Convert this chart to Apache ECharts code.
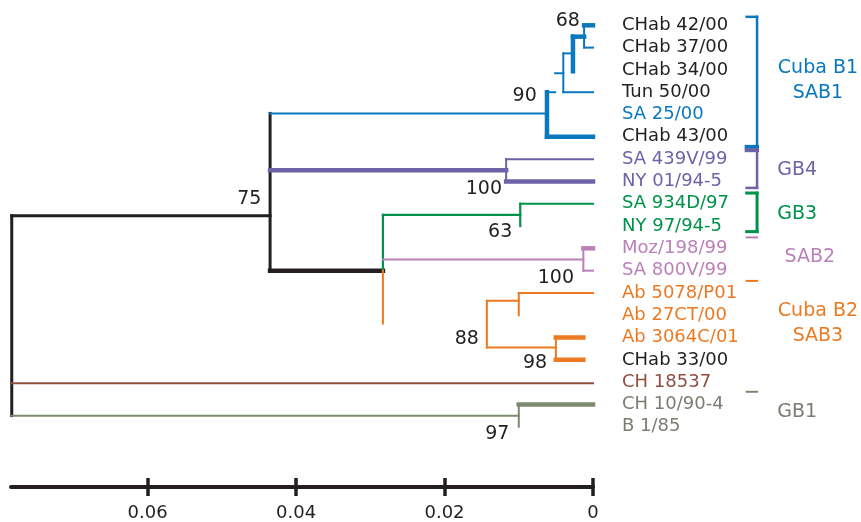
<!DOCTYPE html>
<html>
<head>
<meta charset="utf-8">
<script src="https://cdn.jsdelivr.net/npm/echarts@6/dist/echarts.min.js"></script>
<style>
html, body { margin: 0; padding: 0; background: #fff; }
#main { width: 861px; height: 522px; }
</style>
</head>
<body>
<div id="main"></div>
<script>
// taxa, top to bottom (row index = position in this list)
var leafNames = ['CHab 42/00', 'CHab 37/00', 'CHab 34/00', 'Tun 50/00', 'SA 25/00', 'CHab 43/00',
    'SA 439V/99', 'NY 01/94-5', 'SA 934D/97', 'NY 97/94-5', 'Moz/198/99', 'SA 800V/99',
    'Ab 5078/P01', 'Ab 27CT/00', 'Ab 3064C/01', 'CHab 33/00', 'CH 18537', 'CH 10/90-4', 'B 1/85'];
var leafGroup = ['k', 'k', 'k', 'k', 'b1', 'k', 'gb4', 'gb4', 'gb3', 'gb3', 'sab2', 'sab2',
    'b2', 'b2', 'b2', 'k', 'ch', 'gb1', 'gb1'];

// branches: [dist1, row1, dist2, row2]  (distance = substitutions/site)
var rootThin = [[0.0783, 8.54, 0.0783, 17.5], [0.0783, 8.54, 0.0435, 8.54], [0.0435, 3.95, 0.0435, 11]];
var rootThick = [[0.0435, 11, 0.0283, 11]];
var b1Thin = [[0.0435, 3.95, 0.0062, 3.95], [0.0062, 3, 0.0051, 3], [0.0051, 2.15, 0.0040, 2.15],
    [0.0040, 1.26, 0.0040, 3], [0.0040, 3, 0, 3], [0.0040, 1.26, 0.0027, 1.26],
    [0.0012, 0, 0.0012, 1], [0.0012, 1, 0, 1]];
var b1Thick = [[0.0062, 3, 0.0062, 5], [0.0062, 5, 0, 5], [0.0027, 0.51, 0.0027, 2.06],
    [0.0027, 0.51, 0.0012, 0.51], [0.0012, 0, 0, 0]];
var gb4Thin = [[0.0117, 6, 0.0117, 7], [0.0117, 6, 0, 6]];
var gb4Thick = [[0.0435, 6.5, 0.0117, 6.5], [0.0117, 7, 0, 7]];
var gb3Thin = [[0.0283, 8.5, 0.0283, 11], [0.0283, 8.5, 0.0098, 8.5], [0.0098, 8, 0.0098, 9], [0.0098, 8, 0, 8]];
var sab2Thin = [[0.0283, 10.5, 0.0013, 10.5], [0.0013, 10, 0.0013, 11], [0.0013, 11, 0, 11]];
var sab2Thick = [[0.0013, 10, 0, 10]];
var b2Thin = [[0.0283, 11, 0.0283, 13.37], [0.0143, 12.35, 0.0143, 14.44], [0.0143, 12.35, 0.0100, 12.35],
    [0.0100, 12, 0.0100, 13], [0.0100, 12, 0, 12], [0.0143, 14.44, 0.0050, 14.44], [0.0050, 14, 0.0050, 15]];
var b2Thick = [[0.0050, 14, 0.0013, 14], [0.0050, 15, 0.0013, 15]];
var chThin = [[0.0783, 16.05, 0, 16.05]];
var gb1Thin = [[0.0783, 17.5, 0.0100, 17.5], [0.0100, 17, 0.0100, 18]];
var gb1Thick = [[0.0100, 17, 0, 17]];

// bootstrap values and the node they sit next to
var bootValues = ['68', '90', '75', '100', '63', '100', '88', '98', '97'];
var bootDist = [0.0034, 0.0092, 0.0463, 0.0147, 0.0125, 0.0050, 0.0170, 0.0078, 0.0129];
var bootRow = [-0.2, 3.17, 7.78, 7.34, 9.29, 11.33, 14.08, 15.14, 18.34];

// genotype brackets on the right
var b1Bracket = [[-0.0207, -0.38, -0.0221, -0.38], [-0.0221, -0.38, -0.0221, 5.45]];
var b1BracketEnd = [[-0.0207, 5.45, -0.0221, 5.45]];
var gb4Bracket = [[-0.0221, 5.6, -0.0221, 7.29], [-0.0221, 7.29, -0.0207, 7.29]];
var gb4BracketEnd = [[-0.0207, 5.6, -0.0221, 5.6]];
var gb3Bracket = [[-0.0207, 7.52, -0.0221, 7.52], [-0.0221, 7.52, -0.0221, 9.25], [-0.0221, 9.25, -0.0207, 9.25]];
var sab2Bracket = [[-0.0207, 9.51, -0.0221, 9.51]];
var b2Bracket = [[-0.0207, 11.46, -0.0221, 11.46]];
var gb1Bracket = [[-0.0207, 16.43, -0.0221, 16.43]];

var cladeNames = ['Cuba B1\nSAB1', 'GB4', 'GB3', 'SAB2', 'Cuba B2\nSAB3', 'GB1'];
var cladeGroup = ['b1', 'gb4', 'gb3', 'sab2', 'b2', 'gb1'];
var cladeDist = [-0.0303, -0.0275, -0.0275, -0.0292, -0.0303, -0.0275];
var cladeRow = [2.48, 6.5, 8.45, 10.4, 13.37, 17.36];

var axisTicks = [0, 0.02, 0.04, 0.06];

var lineColor = { k: '#231f20', b1: '#0a78bf', gb4: '#6d63a6', gb3: '#00924a', sab2: '#bb80b9',
    b2: '#ec7a23', ch: '#8e4f40', gb1: '#7b896c' };
var textColor = { k: '#231f20', b1: '#0a78bf', gb4: '#6d63a6', gb3: '#00924a', sab2: '#bb80b9',
    b2: '#ec7a23', ch: '#8e4f40', gb1: '#7c7c72' };
var font = 'DejaVu Sans';

var myChart = echarts.init(document.getElementById('main'));

function segs(data, color, width) {
    return {
        type: 'custom',
        coordinateSystem: 'cartesian2d',
        silent: true,
        clip: false,
        data: data,
        encode: { x: [0, 2], y: [1, 3] },
        renderItem: function (params, api) {
            var a = api.coord([api.value(0), api.value(1)]);
            var b = api.coord([api.value(2), api.value(3)]);
            return {
                type: 'line',
                shape: { x1: a[0], y1: a[1], x2: b[0], y2: b[1] },
                style: { stroke: color, lineWidth: width, lineCap: 'square' }
            };
        }
    };
}

function texts(dist, rows, labels, colors, size, align, dx) {
    return {
        type: 'custom',
        coordinateSystem: 'cartesian2d',
        silent: true,
        clip: false,
        data: rows.map(function (r, i) { return [dist[i], r]; }),
        renderItem: function (params, api) {
            var p = api.coord([api.value(0), api.value(1)]);
            var i = params.dataIndex;
            return {
                type: 'text',
                x: p[0] + dx,
                y: p[1],
                style: {
                    text: labels[i],
                    fill: colors[i],
                    font: size + 'px "' + font + '"',
                    align: align,
                    verticalAlign: 'middle',
                    lineHeight: 25
                }
            };
        }
    };
}

var option = {
    animation: false,
    grid: { left: 11, right: 268, top: 3, bottom: 30 },
    xAxis: [{
        type: 'value',
        position: 'bottom',
        inverse: true,
        min: 0,
        max: 0.0784,
        interval: 0.02,
        splitLine: { show: false },
        axisLine: { onZero: false, lineStyle: { color: '#231f20', width: 4 } },
        axisTick: { customValues: axisTicks, length: 9, lineStyle: { color: '#231f20', width: 3.5 } },
        axisLabel: { customValues: axisTicks, margin: 17, color: '#231f20', fontSize: 18, fontFamily: font }
    }, {
        type: 'value',
        position: 'bottom',
        inverse: true,
        min: 0,
        max: 0.0784,
        interval: 0.02,
        splitLine: { show: false },
        axisLine: { show: false, onZero: false },
        axisTick: { customValues: axisTicks, inside: true, length: 9, lineStyle: { color: '#231f20', width: 3.5 } },
        axisLabel: { show: false }
    }],
    yAxis: {
        type: 'value',
        inverse: true,
        min: -1,
        max: 20.7,
        show: false
    },
    series: [
        segs(rootThin, lineColor.k, 3),
        segs(rootThick, lineColor.k, 4.5),
        segs(b1Thin, lineColor.b1, 2),
        segs(b1Thick, lineColor.b1, 4.5),
        segs(gb4Thin, lineColor.gb4, 2),
        segs(gb4Thick, lineColor.gb4, 4.5),
        segs(gb3Thin, lineColor.gb3, 2.2),
        segs(sab2Thin, lineColor.sab2, 2),
        segs(sab2Thick, lineColor.sab2, 4.5),
        segs(b2Thin, lineColor.b2, 2),
        segs(b2Thick, lineColor.b2, 4.5),
        segs(chThin, lineColor.ch, 2),
        segs(gb1Thin, lineColor.gb1, 2),
        segs(gb1Thick, lineColor.gb1, 4.5),
        segs(b1Bracket, lineColor.b1, 2.5),
        segs(b1BracketEnd, lineColor.b1, 4),
        segs(gb4Bracket, lineColor.gb4, 2.5),
        segs(gb4BracketEnd, lineColor.gb4, 4),
        segs(gb3Bracket, lineColor.gb3, 3),
        segs(sab2Bracket, lineColor.sab2, 2),
        segs(b2Bracket, lineColor.b2, 2),
        segs(gb1Bracket, lineColor.gb1, 2),
        texts(leafNames.map(function () { return 0; }), leafNames.map(function (n, i) { return i; }),
            leafNames, leafGroup.map(function (g) { return textColor[g]; }), 18, 'left', 29),
        texts(bootDist, bootRow, bootValues, bootValues.map(function () { return '#231f20'; }), 19, 'center', 0),
        texts(cladeDist, cladeRow, cladeNames, cladeGroup.map(function (g) { return textColor[g]; }), 19, 'center', 0)
    ]
};

myChart.setOption(option);
</script>
</body>
</html>
